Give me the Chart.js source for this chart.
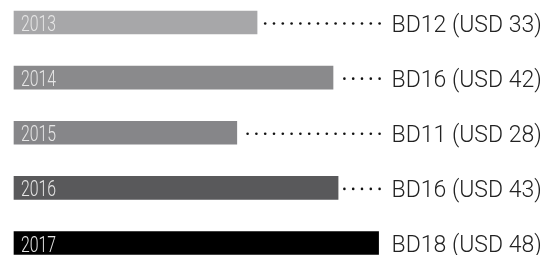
<!DOCTYPE html>
<html>
<head>
<meta charset="utf-8">
<script src="https://cdn.jsdelivr.net/npm/chart.js@4"></script>
<style>
  html, body { margin: 0; padding: 0; background: #fff; }
  #wrap { width: 557px; height: 255px; position: relative; }
</style>
</head>
<body>
<div id="wrap"><canvas id="myChart"></canvas></div>
<script>
const years = ['2013', '2014', '2015', '2016', '2017'];
const barValues = [12, 15.75, 11, 16, 18];
const bd = [12, 16, 11, 16, 18];
const usd = [33, 42, 28, 43, 48];
const barColors = ['#a7a7a9', '#8a8a8c', '#868689', '#59595b', '#000000'];

const dotLeaders = {
    id: 'dotLeaders',
    afterDatasetsDraw(chart) {
        const ctx = chart.ctx;
        const meta = chart.getDatasetMeta(0);
        const xs = chart.scales.x;
        const endX = xs.getPixelForValue(18.05);
        ctx.save();
        meta.data.forEach((bar, i) => {
            const y = bar.y;
            // dots from fixed end back toward the bar
            ctx.fillStyle = '#111';
            for (let x = endX; x > bar.x + 4; x -= 8.8) {
                ctx.beginPath();
                ctx.arc(x, y + 1, 1.3, 0, Math.PI * 2);
                ctx.fill();
            }
            // value label
            ctx.fillStyle = '#222';
            ctx.font = '300 23px Roboto';
            ctx.textBaseline = 'alphabetic';
            ctx.textAlign = 'left';
            ctx.fillText('BD' + bd[i] + ' (USD ' + usd[i] + ')', endX + 12, y + 9);
            // year inside bar, condensed
            ctx.save();
            ctx.translate(bar.base + 7, y + 8.5);
            ctx.scale(0.72, 1);
            ctx.fillStyle = '#e6e6e6';
            ctx.font = '300 22px Roboto';
            ctx.fillText(years[i], 0, 0);
            ctx.restore();
        });
        ctx.restore();
    }
};

const ctx = document.getElementById('myChart').getContext('2d');
const myChart = new Chart(ctx, {
    type: 'bar',
    data: {
        labels: years,
        datasets: [{
            data: barValues,
            backgroundColor: barColors,
            borderWidth: 0,
            barThickness: 23,
            clip: false
        }]
    },
    options: {
        indexAxis: 'y',
        responsive: true,
        maintainAspectRatio: false,
        animation: false,
        layout: {
            padding: { left: 14, right: 177, top: 22.5, bottom: 12 }
        },
        plugins: {
            legend: { display: false },
            tooltip: { enabled: false }
        },
        scales: {
            x: { display: false, min: 0, max: 18.07 },
            y: { display: false, offset: false }
        }
    },
    plugins: [dotLeaders]
});
</script>
</body>
</html>
